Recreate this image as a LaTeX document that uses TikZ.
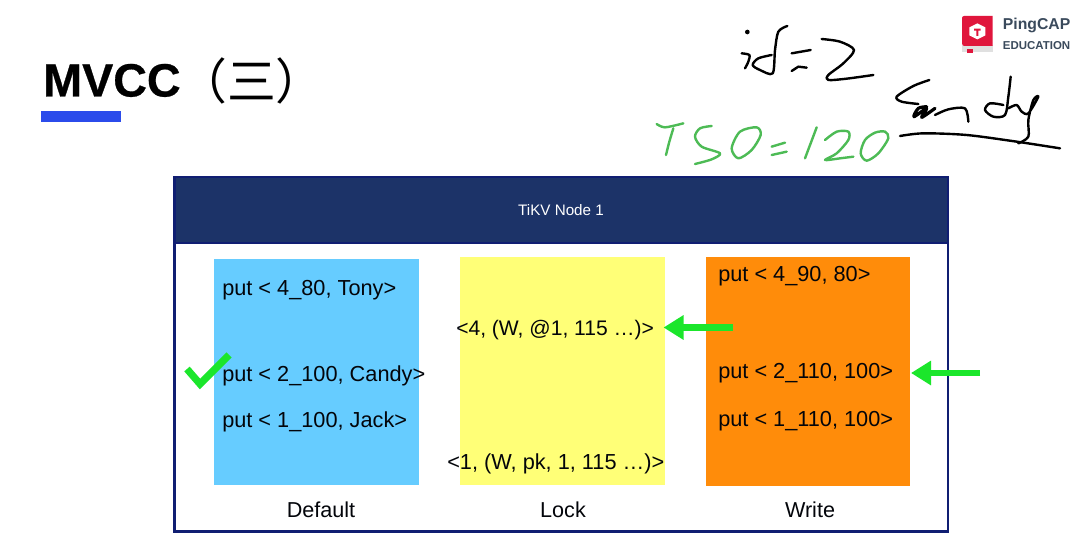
\documentclass[tikz,border=0pt]{standalone}
\usepackage{fontspec}
\setmainfont{Liberation Sans}
\newfontfamily\cjk{Noto Sans CJK SC}
\newfontfamily\heavy{Liberation Sans Bold}[FakeBold=0.6]
\usetikzlibrary{arrows.meta}
\definecolor{navy}{HTML}{1C3368}
\definecolor{navyedge}{HTML}{101E72}
\definecolor{blueb}{HTML}{66CCFF}
\definecolor{yellowb}{HTML}{FFFF77}
\definecolor{orangeb}{HTML}{FF8C0A}
\definecolor{brightg}{HTML}{1BE62B}
\definecolor{penG}{HTML}{4DBB55}
\definecolor{logored}{HTML}{E0163C}
\definecolor{logotext}{HTML}{3A4A5C}
\definecolor{barblue}{HTML}{2B4BEB}
\tikzset{
 lab/.style={anchor=base west,inner sep=0pt,font=\fontsize{16.3pt}{18pt}\selectfont,text=black!90!navy},
 captext/.style={anchor=base,inner sep=0pt,font=\fontsize{16.2pt}{18pt}\selectfont,text=black!90!navy},
 pen/.style={line width=1.8pt,line cap=round,line join=round,black},
 peng/.style={line width=1.8pt,line cap=round,line join=round,penG},
 garrow/.style={-{Triangle[length=15pt,width=17.5pt]},line width=5.2pt,brightg},
}
\begin{document}
\begin{tikzpicture}[x=.75pt,y=-.75pt]
\useasboundingbox (0,0) rectangle (1080,549);
\fill[white] (0,0) rectangle (1080,549);
% title
\node[anchor=base west,inner sep=0pt,font=\fontsize{35pt}{40pt}\selectfont\heavy] (title) at (43,96.5) {MVCC};
\node[anchor=base west,inner sep=0pt,font=\fontsize{36.6pt}{40pt}\selectfont\cjk] (title2) at (178,100) {（三）};
\fill[barblue] (41,111) rectangle (121,122.5);
% outer
\fill[navy] (174.5,177) rectangle (948,243);
\draw[navyedge,line width=2pt] (174.5,177) rectangle (948,531.5);
\draw[navyedge,line width=2.2pt] (174.5,243) -- (948,243);
\node[text=white,inner sep=0pt,font=\fontsize{11.4pt}{12pt}\selectfont] (hdr) at (561,210) {TiKV Node 1};
% columns
\fill[blueb] (214,259) rectangle (419,485);
\fill[yellowb] (459.5,257) rectangle (665,485);
\fill[orangeb] (706,257) rectangle (910,486);
% text
\node[lab] (d1) at (222,295) {put < 4\_80, Tony>};
\node[lab] (d2) at (222,381) {put < 2\_100, Candy>};
\node[lab] (d3) at (222,427) {put < 1\_100, Jack>};
\node[lab,font=\fontsize{15.8pt}{18pt}\selectfont] (l1) at (456,335) {<4, (W, @1, 115 …)>};
\node[lab] (l2) at (447,469.5) {<1, (W, pk, 1, 115 …)>};
\node[lab] (w1) at (718,281) {put < 4\_90, 80>};
\node[lab] (w2) at (718,378) {put < 2\_110, 100>};
\node[lab] (w3) at (718,426) {put < 1\_110, 100>};
\node[captext] (c1) at (321,517) {Default};
\node[captext] (c2) at (563,517) {Lock};
\node[captext] (c3) at (810,517) {Write};
% green marks
\coordinate (a1s) at (733,327.5); \coordinate (a1e) at (663.5,327.5);
\coordinate (a2s) at (980,373); \coordinate (a2e) at (911,373);
\draw[garrow] (a1s) -- (a1e);
\draw[garrow] (a2s) -- (a2e);
\draw[brightg,line width=5.4pt,line join=miter] (187,369) -- (200,384) -- (229,355);
% handwriting and logo, in zoom coordinates (1/3 px)
\begin{scope}[shift={(640,0)},x=.25pt,y=-.25pt]
 % id=2
 \fill (322,96) circle (7);
 \draw[pen] plot[smooth] coordinates {(305,160) (328,165) (325,185) (315,205)};
 \draw[pen] plot[smooth] coordinates {(395,165) (355,175) (338,195) (360,210) (398,220) (405,150) (415,95) (442,78)};
 \draw[pen] (455,160) -- (512,150);
 \draw[pen] (455,213) -- (475,200) -- (500,203);
 \draw[pen] plot[smooth] coordinates {(545,117) (600,125) (642,150) (610,190) (565,225) (565,240) (620,236) (700,225)};
 % Candy
 \draw[pen] plot[smooth] coordinates {(868,240) (820,258) (770,290) (785,305) (835,312)};
 \draw[pen,line width=2.4pt] plot[smooth] coordinates {(860,320) (835,325) (822,350) (860,325) (845,352) (885,325)};
 \draw[pen] plot[smooth] coordinates {(885,345) (925,328) (975,325) (985,365)};
 \draw[pen] plot[smooth] coordinates {(1090,315) (1050,310) (1035,330) (1060,350) (1095,345) (1105,290) (1112,230)};
 \draw[pen] plot[smooth] coordinates {(1105,325) (1130,315) (1145,335) (1165,340) (1195,290) (1180,300) (1165,360) (1165,410) (1135,430)};
 \draw[pen] plot[smooth] coordinates {(780,408) (850,400) (980,405) (1130,425) (1260,445)};
 % TSO=120
 \draw[peng] plot[smooth] coordinates {(50,372) (75,382) (130,370)};
 \draw[peng] plot[smooth] coordinates {(100,385) (88,425) (78,465)};
 \draw[peng] plot[smooth] coordinates {(215,378) (180,385) (165,410) (185,440) (240,460) (215,478) (165,492)};
 \draw[peng] plot[smooth cycle] coordinates {(350,382) (300,395) (275,445) (295,475) (335,450) (362,405)};
 \draw[peng] (395,440) -- (435,428);
 \draw[peng] (395,465) -- (440,455);
 \draw[peng] (530,382) -- (495,475);
 \draw[peng] plot[smooth] coordinates {(555,420) (590,395) (625,395) (625,420) (590,460) (555,480) (600,475) (640,470)};
 \draw[peng] plot[smooth cycle] coordinates {(705,398) (675,420) (662,460) (680,482) (715,460) (745,415) (735,395)};
 % logo
 \fill[black!12] (966,135) rectangle (1058,155);
 \fill[logored] (972,48) -- (1058,48) -- (1058,138) -- (972,138) to[out=180,in=-90] (966,128) -- (966,54) to[out=90,in=180] cycle;
 \fill[logored] (982,146) rectangle (998,158);
 \fill[white] (1012,70) -- (1036,82) -- (1036,106) -- (1012,118) -- (988,106) -- (988,82) -- cycle;
 \fill[logored] (1002,86) -- (1022,86) -- (1022,92) -- (1015,92) -- (1015,108) -- (1009,108) -- (1009,92) -- (1002,92) -- cycle;
 \node[anchor=base west,inner sep=0pt,text=logotext,font=\fontsize{11.8pt}{12pt}\selectfont\bfseries] (logo1) at (1088,90) {PingCAP};
 \node[anchor=base west,inner sep=0pt,text=logotext,font=\fontsize{8.6pt}{9pt}\selectfont\bfseries] (logo2) at (1088,148) {EDUCATION};
\end{scope}
\end{tikzpicture}
\end{document}
